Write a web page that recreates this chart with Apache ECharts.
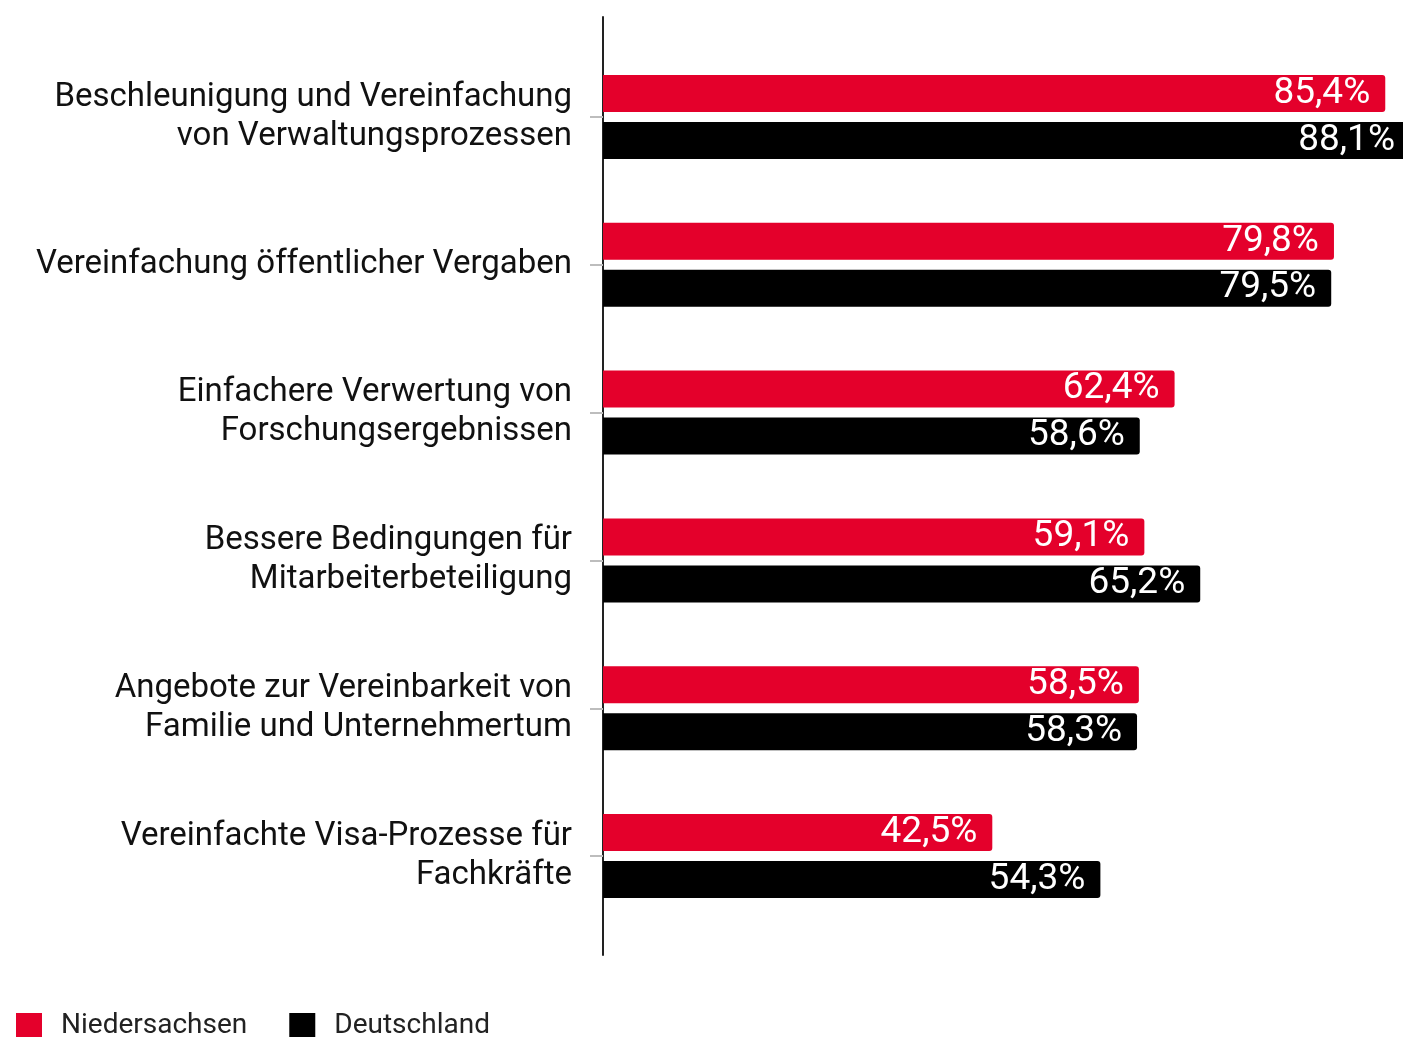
<!DOCTYPE html>
<html>
<head>
<meta charset="utf-8">
<script src="https://cdn.jsdelivr.net/npm/echarts@6/dist/echarts.min.js"></script>
<style>
  html, body { margin: 0; padding: 0; background: #fff; }
  #chart { width: 1403px; height: 1037px; }
</style>
</head>
<body>
<div id="chart"></div>
<script>
// Kategorien (von oben nach unten)
var categories = [
  "Beschleunigung und Vereinfachung\nvon Verwaltungsprozessen",
  "Vereinfachung öffentlicher Vergaben",
  "Einfachere Verwertung von\nForschungsergebnissen",
  "Bessere Bedingungen für\nMitarbeiterbeteiligung",
  "Angebote zur Vereinbarkeit von\nFamilie und Unternehmertum",
  "Vereinfachte Visa-Prozesse für\nFachkräfte"
];
var seriesNames = ["Niedersachsen", "Deutschland"];
var niedersachsen = [85.4, 79.8, 62.4, 59.1, 58.5, 42.5];
var deutschland = [88.1, 79.5, 58.6, 65.2, 58.3, 54.3];

var RED = "#e4002b";
var BLACK = "#000000";

var myChart = echarts.init(document.getElementById("chart"));

function fmt(p) {
  return p.value.toFixed(1).replace(".", ",") + "%";
}

function barSeries(name, data, color) {
  return {
    name: name,
    type: "bar",
    xAxisIndex: 0,
    yAxisIndex: 0,
    data: data,
    barWidth: 37,
    barGap: "27%",
    clip: false,
    itemStyle: {
      color: color,
      borderRadius: [0, 3, 3, 0]
    },
    label: {
      show: true,
      position: "insideRight",
      distance: 15,
      color: "#fff",
      fontFamily: "Roboto",
      fontSize: 37,
      padding: [2, 0, 0, 0],
      formatter: fmt
    }
  };
}

var option = {
  backgroundColor: "#fff",
  animation: false,
  legend: {
    left: 16,
    top: 1012,
    padding: 0,
    itemWidth: 26,
    itemHeight: 26,
    itemGap: 42,
    icon: "rect",
    data: seriesNames,
    textStyle: {
      fontFamily: "Roboto",
      fontSize: 28,
      color: "#222",
      padding: [6, 0, 0, 14]
    }
  },
  grid: [
    { left: 603, width: 916, top: 43, bottom: 107, outerBoundsMode: "none", containLabel: false },
    // nur für die durchgehende Achsenlinie
    { left: 603, right: 0, top: 17, bottom: 82, outerBoundsMode: "none", containLabel: false }
  ],
  xAxis: [
    { type: "value", gridIndex: 0, min: 0, max: 100, show: false },
    { type: "value", gridIndex: 1, show: false }
  ],
  yAxis: [
    {
      type: "category",
      gridIndex: 0,
      inverse: true,
      data: categories,
      axisLine: { show: false },
      axisTick: {
        show: true,
        alignWithLabel: true,
        length: 13,
        lineStyle: { color: "#bdbdbd", width: 2 }
      },
      axisLabel: {
        margin: 31,
        fontFamily: "Roboto",
        fontSize: 33,
        lineHeight: 39,
        color: "#111",
        align: "right",
        padding: [6, 0, 0, 0]
      }
    },
    {
      type: "value",
      gridIndex: 1,
      axisLine: { show: true, lineStyle: { color: "#222", width: 2 } },
      axisTick: { show: false },
      axisLabel: { show: false },
      splitLine: { show: false }
    }
  ],
  series: [
    barSeries(seriesNames[0], niedersachsen, RED),
    barSeries(seriesNames[1], deutschland, BLACK)
  ]
};

myChart.setOption(option);
window.addEventListener("resize", function () {
  myChart.resize();
});
</script>
</body>
</html>
